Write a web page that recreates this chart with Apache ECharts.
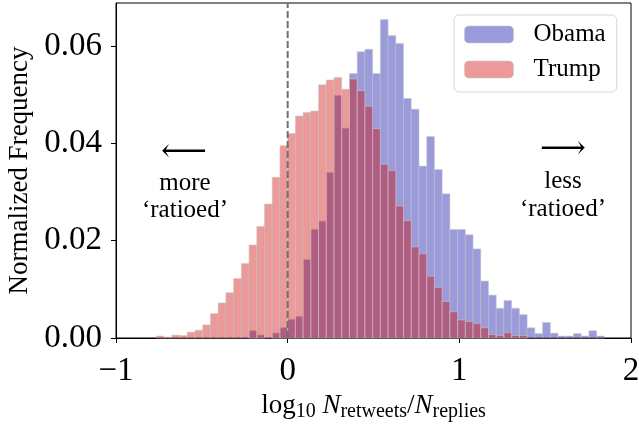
<!DOCTYPE html>
<html>
<head>
<meta charset="utf-8">
<script src="https://cdn.jsdelivr.net/npm/echarts@6/dist/echarts.min.js"></script>
<style>
html,body{margin:0;padding:0;background:#fff;}
#chart{width:639px;height:424px;}
</style>
</head>
<body>
<div id="chart"></div>
<script>
// Histogram bins: left edge of first bin and common bin width
const binStart = -0.765;
const binWidth = 0.045;
// Normalized frequency per bin (first bin starts at binStart)
const trumpFreq = [
  0.0004, 0.0002, 0.0006, 0.0005, 0.0012, 0.0016, 0.0027, 0.0050, 0.0072, 0.0093,
  0.0122, 0.0153, 0.0191, 0.0229, 0.0275, 0.0330, 0.0395, 0.0420, 0.0456, 0.0463,
  0.0466, 0.0520, 0.0530, 0.0535, 0.0511, 0.0532, 0.0508, 0.0476, 0.0430, 0.0357,
  0.0344, 0.0271, 0.0241, 0.0187, 0.0173, 0.0127, 0.0104, 0.0075, 0.0054, 0.0037,
  0.0034, 0.0030, 0.0021, 0.0007, 0.0005, 0.0011, 0.0005, 0.0005, 0, 0,
  0, 0, 0, 0, 0, 0, 0, 0
];
const obamaFreq = [
  0, 0, 0, 0, 0, 0, 0, 0, 0, 0,
  0, 0, 0.0015, 0.0006, 0, 0.0010, 0.0021, 0.0038, 0.0044, 0.0161,
  0.0223, 0.0240, 0.0340, 0.0498, 0.0431, 0.0543, 0.0588, 0.0593, 0.0543, 0.0654,
  0.0621, 0.0605, 0.0492, 0.0470, 0.0353, 0.0414, 0.0346, 0.0296, 0.0223, 0.0223,
  0.0212, 0.0183, 0.0117, 0.0088, 0.0061, 0.0077, 0.0061, 0.0048, 0.0021, 0.0009,
  0.0032, 0.0010, 0.0004, 0.0004, 0.0009, 0.0004, 0.0015, 0.0004
];
const xTicks = [-1, 0, 1, 2];
const yTicks = [0, 0.02, 0.04, 0.06];
const refLineX = 0;

function toBins(freq) {
  return freq.map(function (v, i) {
    const s = binStart + i * binWidth;
    return [s, s + binWidth, v];
  });
}

const FONT = "'Liberation Serif', 'DejaVu Serif', serif";
const OBAMA = 'rgba(5,5,167,0.4)';
const TRUMP = 'rgba(207,0,0,0.4)';

function renderBar(color) {
  return function (params, api) {
    const p0 = api.coord([api.value(0), 0]);
    const p1 = api.coord([api.value(1), api.value(2)]);
    if (api.value(2) <= 0) return null;
    return {
      type: 'rect',
      shape: { x: p0[0], y: p1[1], width: p1[0] - p0[0], height: p0[1] - p1[1] },
      style: { fill: color, stroke: 'rgba(200,200,200,0.55)', lineWidth: 1 }
    };
  };
}

const chart = echarts.init(document.getElementById('chart'), null, { renderer: 'canvas' });
chart.setOption({
  animation: false,
  backgroundColor: '#fff',
  grid: {
    left: 116, top: 3, width: 515, height: 335, containLabel: false, outerBoundsMode: 'none',
    show: true, borderColor: '#000', borderWidth: 1, backgroundColor: 'transparent'
  },
  xAxis: {
    type: 'value', min: -1, max: 2, interval: 1,
    axisLine: { show: true, onZero: false, lineStyle: { color: '#000', width: 1 } },
    axisTick: { show: true, inside: false, length: 5, lineStyle: { color: '#000' } },
    splitLine: { show: false },
    axisLabel: {
      color: '#000', fontSize: 33, fontFamily: FONT, margin: 17,
      formatter: function (v) { return xTicks.indexOf(v) >= 0 ? String(v).replace('-', '\u2212') : ''; }
    },
    name: '{a|log}{s|10}{a| }{n|N}{s|retweets}{a|/}{n|N}{s|replies}',
    nameLocation: 'middle', nameGap: 49,
    nameTextStyle: {
      color: '#000', fontFamily: FONT,
      rich: {
        a: { fontSize: 27, fontFamily: FONT, color: '#000', lineHeight: 31 },
        n: { fontSize: 27, fontFamily: FONT, fontStyle: 'italic', color: '#000', lineHeight: 31 },
        s: { fontSize: 20, fontFamily: FONT, color: '#000', lineHeight: 31, verticalAlign: 'bottom' }
      }
    }
  },
  yAxis: {
    type: 'value', min: 0, max: 0.0688, interval: 0.02,
    axisLine: { show: true, onZero: false, lineStyle: { color: '#000', width: 1 } },
    axisTick: { show: true, inside: false, length: 5, lineStyle: { color: '#000' } },
    splitLine: { show: false },
    axisLabel: {
      color: '#000', fontSize: 33, fontFamily: FONT, margin: 14, showMaxLabel: false,
      formatter: function (v) {
        for (let i = 0; i < yTicks.length; i++) if (Math.abs(v - yTicks[i]) < 1e-9) return yTicks[i].toFixed(2);
        return '';
      }
    },
    name: 'Normalized Frequency', nameLocation: 'middle', nameGap: 83, nameRotate: 90,
    nameTextStyle: { color: '#000', fontSize: 27, fontFamily: FONT }
  },
  legend: {
    orient: 'vertical', left: 454, top: 15,
    padding: [7, 11, 10, 10], itemGap: 10, itemWidth: 49, itemHeight: 17,
    borderColor: '#d6d6d6', borderWidth: 1, borderRadius: 5, backgroundColor: 'rgba(255,255,255,0.8)',
    textStyle: { color: '#000', fontSize: 25, fontFamily: FONT, padding: [0, 0, 0, 15] },
    itemStyle: { borderColor: 'rgba(200,200,200,0.55)', borderWidth: 1 },
    data: ['Obama', 'Trump']
  },
  series: [
    {
      name: 'Obama', type: 'custom', renderItem: renderBar(OBAMA),
      itemStyle: { color: OBAMA }, encode: { x: [0, 1], y: 2 },
      data: toBins(obamaFreq), z: 2
    },
    {
      name: 'Trump', type: 'custom', renderItem: renderBar(TRUMP),
      itemStyle: { color: TRUMP }, encode: { x: [0, 1], y: 2 },
      data: toBins(trumpFreq), z: 3
    },
    {
      name: 'ref', type: 'line', symbol: 'none', silent: true, z: 10,
      lineStyle: { color: '#707070', width: 2, type: [7, 3] },
      data: [[refLineX, 0], [refLineX, 0.0688]]
    }
  ],
  graphic: [
    { type: 'text', x: 184, y: 153, style: { text: '\u27f5', font: "32px " + FONT, fill: '#000', textAlign: 'center', textVerticalAlign: 'middle' } },
    { type: 'text', x: 185, y: 183, style: { text: 'more', font: "25px " + FONT, fill: '#000', textAlign: 'center', textVerticalAlign: 'middle' } },
    { type: 'text', x: 185, y: 210, style: { text: '\u2018ratioed\u2019', font: "25px " + FONT, fill: '#000', textAlign: 'center', textVerticalAlign: 'middle' } },
    { type: 'text', x: 563, y: 150, style: { text: '\u27f6', font: "32px " + FONT, fill: '#000', textAlign: 'center', textVerticalAlign: 'middle' } },
    { type: 'text', x: 563, y: 181, style: { text: 'less', font: "25px " + FONT, fill: '#000', textAlign: 'center', textVerticalAlign: 'middle' } },
    { type: 'text', x: 563, y: 209, style: { text: '\u2018ratioed\u2019', font: "25px " + FONT, fill: '#000', textAlign: 'center', textVerticalAlign: 'middle' } }
  ]
});
</script>
</body>
</html>
